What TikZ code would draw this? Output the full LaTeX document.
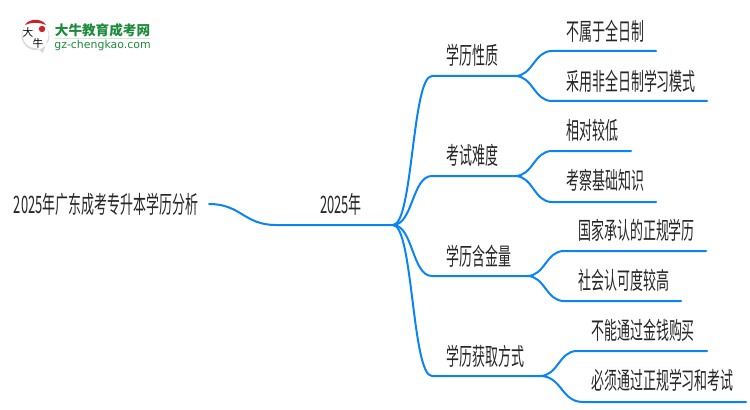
\documentclass[tikz,border=0pt]{standalone}
\usepackage{fontspec}
\setmainfont{Noto Sans CJK SC}[FakeStretch=0.54]
\newfontfamily\logofont{Noto Sans CJK SC}
\newfontfamily\urlfont{DejaVu Sans}
\definecolor{branchblue}{HTML}{0A84F5}
\definecolor{logogreen}{HTML}{1E8A3C}
\definecolor{logored}{HTML}{C8242B}
\tikzset{topic/.style={inner sep=0pt, font=\fontsize{18}{18}\selectfont, text=black!85},
link/.style={draw=branchblue, line width=1.5pt, line cap=round},
logotext/.style={inner sep=0pt, text=logogreen},
logoink/.style={inner sep=0pt, font=\logofont\fontsize{8}{8}\selectfont}}

\begin{document}
\begin{tikzpicture}[x=0.75pt,y=-0.75pt]
  \useasboundingbox (0,0) rectangle (750,410);

  % logo
  \fill [black!15] (35.5,36) circle [radius=10.5pt] (33,45) -- (47,42) -- (43,53) -- cycle;
  \fill [white] (35.5,35) circle [radius=9.8pt];
  \fill [logored] (25,25) .. controls (29,18) and (42,18) .. (46,25) .. controls (40,22) and (31,22) .. (25,25);
  \fill [logored] (42,29) circle [radius=2.4pt];
  \node (logoda) [logoink] at (28,32) {大};
  \node (logoniu) [logoink] at (38,43) {牛};
  \node (logoname) [logotext, font=\logofont\bfseries\fontsize{10.2}{10.2}\selectfont] at (102.5,30) {大牛教育成考网};
  \node (logourl) [logotext, font=\urlfont\fontsize{8.2}{8.2}\selectfont] at (102.5,45) {gz-chengkao.com};
  \draw [logogreen!20, line width=0.6pt] (55,38.5) -- (150,38.5);

  % texts
  \node (root) [topic] at (106,204) {2025年广东成考专升本学历分析};
  \node (year) [topic] at (341,204) {2025年};
  \node (kind) [topic, anchor=west] at (446,55) {学历性质};
  \node (exam) [topic, anchor=west] at (446,155) {考试难度};
  \node (worth) [topic, anchor=west] at (446,256) {学历含金量};
  \node (way) [topic, anchor=west] at (446,356) {学历获取方式};
  \node (kinda) [topic, anchor=west] at (566,31) {不属于全日制};
  \node (kindb) [topic, anchor=west] at (566,81) {采用非全日制学习模式};
  \node (exama) [topic, anchor=west] at (566,130) {相对较低};
  \node (examb) [topic, anchor=west] at (566,180) {考察基础知识};
  \node (wortha) [topic, anchor=west] at (578,230) {国家承认的正规学历};
  \node (worthb) [topic, anchor=west] at (578,280) {社会认可度较高};
  \node (waya) [topic, anchor=west] at (591,330) {不能通过金钱购买};
  \node (wayb) [topic, anchor=west] at (591,380) {必须通过正规学习和考试};

  % connector ends
  \coordinate (rootend) at (209,204);
  \coordinate (hub) at (393,225);
  \coordinate (hubin) at (276,225);
  \coordinate (kindin) at (432,76);
  \coordinate (kindout) at (515,76);
  \coordinate (examin) at (432,176);
  \coordinate (examout) at (515,176);
  \coordinate (worthin) at (432,276);
  \coordinate (worthout) at (527,276);
  \coordinate (wayin) at (432,376);
  \coordinate (wayout) at (540,376);
  \coordinate (kindain) at (552,51);
  \coordinate (kindaend) at (656,51);
  \coordinate (kindbin) at (552,101);
  \coordinate (kindbend) at (707,101);
  \coordinate (examain) at (552,151);
  \coordinate (examaend) at (631,151);
  \coordinate (exambin) at (552,202);
  \coordinate (exambend) at (656,202);
  \coordinate (worthain) at (564,251);
  \coordinate (worthaend) at (706,251);
  \coordinate (worthbin) at (564,301);
  \coordinate (worthbend) at (681,301);
  \coordinate (wayain) at (577,351);
  \coordinate (wayaend) at (707,351);
  \coordinate (waybin) at (583,402);
  \coordinate (waybend) at (746,402);

  % connectors
  \draw [link] (rootend) .. controls +(32,0) and +(-32,0) .. (hubin) -- (hub);
  \draw [link] (hub) .. controls +(20,0) and +(-20,0) .. (kindin) -- (kindout);
  \draw [link] (hub) .. controls +(20,0) and +(-20,0) .. (examin) -- (examout);
  \draw [link] (hub) .. controls +(20,0) and +(-20,0) .. (worthin) -- (worthout);
  \draw [link] (hub) .. controls +(20,0) and +(-20,0) .. (wayin) -- (wayout);
  \draw [link] (kindout) .. controls +(18,0) and +(-18,0) .. (kindain) -- (kindaend);
  \draw [link] (kindout) .. controls +(18,0) and +(-18,0) .. (kindbin) -- (kindbend);
  \draw [link] (examout) .. controls +(18,0) and +(-18,0) .. (examain) -- (examaend);
  \draw [link] (examout) .. controls +(18,0) and +(-18,0) .. (exambin) -- (exambend);
  \draw [link] (worthout) .. controls +(18,0) and +(-18,0) .. (worthain) -- (worthaend);
  \draw [link] (worthout) .. controls +(18,0) and +(-18,0) .. (worthbin) -- (worthbend);
  \draw [link] (wayout) .. controls +(18,0) and +(-18,0) .. (wayain) -- (wayaend);
  \draw [link] (wayout) .. controls +(22,0) and +(-22,0) .. (waybin) -- (waybend);
\end{tikzpicture}
\end{document}
